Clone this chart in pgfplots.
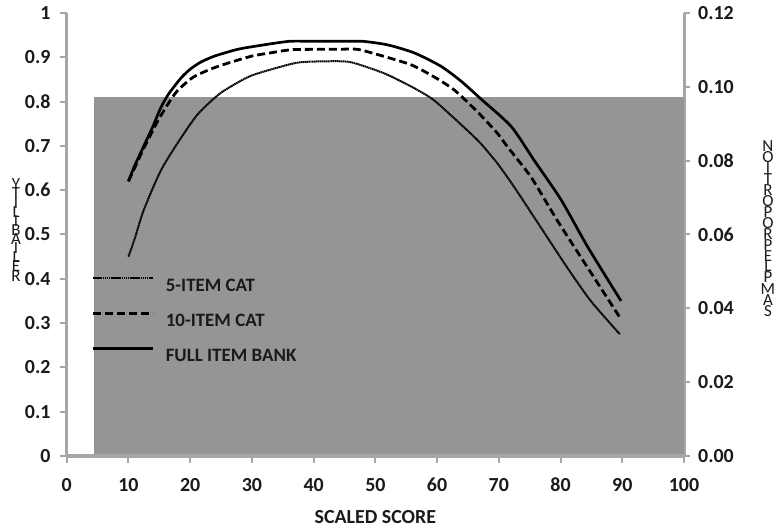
\documentclass[border=0pt]{standalone}
\usepackage{pgfplots}
\pgfplotsset{compat=1.18}
\usepackage{fontspec}
\setmainfont{Carlito}
\definecolor{bargray}{HTML}{959595}
\definecolor{axgray}{HTML}{A6A6A6}
\definecolor{txt}{HTML}{1A1A1A}

\pgfplotstableread{
x y
10 0.62
11 0.655
12.5 0.70
14 0.745
15.2 0.785
16.5 0.817
18.5 0.853
20 0.873
21.7 0.889
24 0.903
27.7 0.918
31 0.926
36 0.936
40 0.936
44 0.936
48 0.936
52 0.928
56.3 0.91
60.6 0.88
63.9 0.846
67.1 0.806
72 0.744
75.7 0.668
80.1 0.578
84.4 0.472
89.8 0.35
}\fullbank

\pgfplotstableread{
x y
10 0.62
11 0.65
12.5 0.695
14.7 0.755
16.2 0.79
17.9 0.824
20.6 0.856
24.4 0.879
29.8 0.902
33 0.91
36.3 0.917
40 0.918
44 0.918
47.1 0.918
51.4 0.902
55.8 0.883
59.5 0.856
62.8 0.826
66.6 0.776
69.8 0.728
71.4 0.698
75.2 0.63
79.5 0.531
84.4 0.425
89.6 0.313
}\tenitem

\pgfplotstableread{
x y
10 0.45
11 0.49
12.5 0.556
15.2 0.643
17.9 0.705
21.2 0.771
25 0.82
29.8 0.858
35.8 0.883
38 0.889
42 0.891
46 0.889
51.4 0.864
55.8 0.834
59.5 0.803
64.9 0.735
67.1 0.705
69.8 0.66
72.5 0.607
76.8 0.516
81.1 0.425
84.9 0.35
89.6 0.275
}\fiveitem

\begin{document}
\begin{tikzpicture}
\path[use as bounding box] (0,0) rectangle (783bp,529bp);
% right axis: sample proportion
\begin{axis}[
  at={(66.7bp,73bp)}, anchor=south west,
  width=617.3bp, height=443bp, scale only axis,
  xmin=0, xmax=100, ymin=0, ymax=0.12,
  hide x axis,
  axis y line*=right,
  axis line style={draw=axgray, line width=3bp, -},
  ytick={0,0.02,0.04,0.06,0.08,0.1,0.12},
  tick align=outside, major tick length=6bp,
  tick style={draw=axgray, line width=2bp},
  /pgf/number format/fixed,
  /pgf/number format/fixed zerofill,
  /pgf/number format/precision=2,
  /pgf/number format/assume math mode=true,
  yticklabel style={inner sep=0pt, xshift=8bp, text=txt, font=\bfseries\fontsize{20}{24}\selectfont},
  ylabel={N\\[-6bp]O\\[-6bp]I\\[-6bp]T\\[-6bp]R\\[-6bp]O\\[-6bp]P\\[-6bp]O\\[-6bp]R\\[-6bp]P\\[-6bp]E\\[-6bp]L\\[-6bp]P\\[-5bp]M\\[-6bp]A\\[-6bp]S},
  ylabel style={rotate=-90, at={(axis description cs:1.136,0.712)}, anchor=north, align=center, inner sep=0pt,
    font=\fontsize{17}{17}\selectfont, text=txt},
]
\addplot[fill=bargray, draw=none] coordinates {(4.5,0.0973) (100,0.0973)} \closedcycle;
\end{axis}
% left axis: reliability
\begin{axis}[
  at={(66.7bp,73bp)}, anchor=south west,
  width=617.3bp, height=443bp, scale only axis,
  xmin=0, xmax=100, ymin=0, ymax=1,
  axis x line*=bottom, axis y line*=left,
  axis line style={draw=axgray, line width=3bp, -},
  xtick={0,10,20,30,40,50,60,70,80,90,100},
  ytick={0,0.1,0.2,0.3,0.4,0.5,0.6,0.7,0.8,0.9,1},
  tick align=outside, major tick length=7bp,
  tick style={draw=axgray, line width=2bp},
  /pgf/number format/assume math mode=true,
  ticklabel style={text=txt, font=\bfseries\fontsize{20}{24}\selectfont, inner sep=0pt},
  yticklabel style={xshift=-9bp},
  xticklabel style={yshift=-15bp},
  xlabel={SCALED SCORE},
  xlabel style={at={(axis description cs:0.5,0)}, anchor=base, yshift=-67bp, inner sep=0pt,
    font=\bfseries\fontsize{20}{24}\selectfont, text=txt},
  ylabel={Y\\[-7.8bp]T\\[-7.8bp]I\\[-7.8bp]L\\[-7.8bp]I\\[-7.8bp]B\\[-7.8bp]A\\[-7.8bp]I\\[-7.8bp]L\\[-7.8bp]E\\[-7.8bp]R},
  ylabel style={rotate=-90, at={(axis description cs:-0.082,0.626)}, anchor=north, align=center, inner sep=0pt,
    font=\fontsize{17}{17}\selectfont, text=txt},
  legend style={at={(axis description cs:0.041,0.404)}, anchor=north west, draw=none, fill=none,
    inner sep=0pt, outer sep=0pt, row sep=21bp, column sep=11bp,
    font=\bfseries\fontsize{19}{22}\selectfont, text=txt,
    nodes={inner sep=0pt, text height=13bp, text depth=0bp}},
  legend cell align=left,
  legend image code/.code={\draw[#1] (0bp,6.5bp) -- (60bp,6.5bp);},
]
\addplot[black, line width=2bp, dash pattern=on 1.4bp off 0.5bp, smooth, tension=0.4] table {\fiveitem};
\addlegendentry{5-ITEM CAT}
\addplot[black, line width=2.8bp, dash pattern=on 8bp off 4bp, smooth, tension=0.4] table {\tenitem};
\addlegendentry{10-ITEM CAT}
\addplot[black, line width=2.7bp, smooth, tension=0.4] table {\fullbank};
\addlegendentry{FULL ITEM BANK}
\end{axis}
\end{tikzpicture}
\end{document}
